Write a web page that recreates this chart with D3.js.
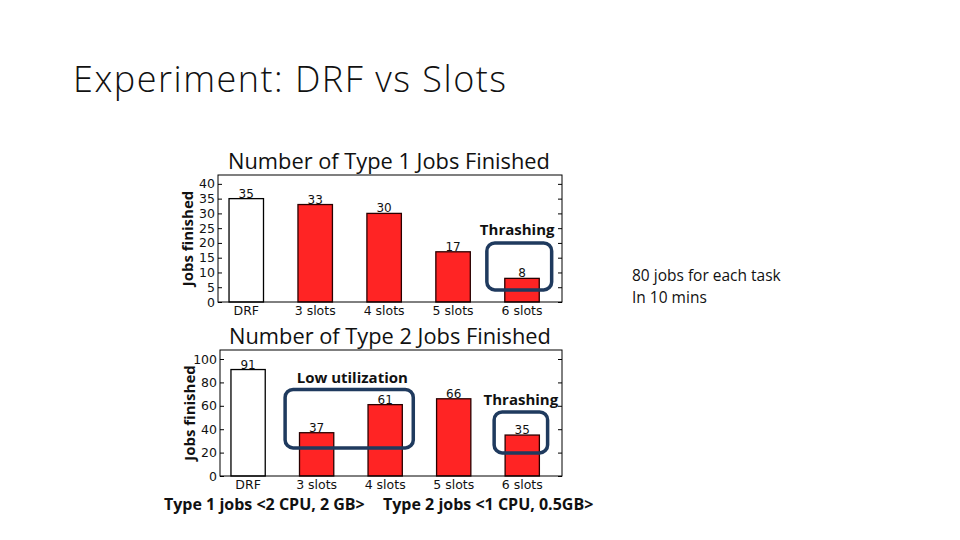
<!DOCTYPE html>
<html lang="en">
<head>
    <meta charset="utf-8">
    <script type="text/javascript" src="https://d3js.org/d3.v7.min.js"></script>
    <title>Experiment: DRF vs Slots</title>
    <style>
        html, body {
            margin: 0;
            padding: 0;
            background: white;
        }
        svg {
            display: block;
        }
        .tick-label, .bar-value, .x-label {
            font-family: "DejaVu Sans", sans-serif;
        }
        .chart-title, .slide-title, .note, .y-title, .annot, .caption {
            font-family: "Open Sans", "Liberation Sans", sans-serif;
        }
    </style>
</head>
<body>
<div id="slide"></div>

<script type="text/javascript">

    // ---------- data ----------
    const categories = ["DRF", "3 slots", "4 slots", "5 slots", "6 slots"];
    const type1Finished = [35, 33, 30, 17, 8];
    const type2Finished = [91, 37, 61, 66, 35];
    const type1Ticks = [0, 5, 10, 15, 20, 25, 30, 35, 40];
    const type2Ticks = [0, 20, 40, 60, 80, 100];
    const noteLines = ["80 jobs for each task", "In 10 mins"];
    const captions = ["Type 1 jobs <2 CPU, 2 GB>", "Type 2 jobs <1 CPU, 0.5GB>"];

    const W = 960, H = 540;
    const RED = "#ff2424";
    const BOX = "#1f3a5e";

    const svg = d3.select("#slide")
        .append("svg")
        .attr("width", W)
        .attr("height", H)
        .style("background", "white");

    // slide title
    svg.append("text")
        .attr("class", "slide-title")
        .attr("x", 73)
        .attr("y", 92)
        .style("font-size", "36px")
        .style("font-weight", 300)
        .style("letter-spacing", "1.5px")
        .attr("fill", "#111")
        .text("Experiment: DRF vs Slots");

    // side note
    svg.append("g")
        .selectAll("text")
        .data(noteLines)
        .join("text")
        .attr("class", "note")
        .attr("x", 632)
        .attr("y", (d, i) => 281 + i * 22)
        .style("font-size", "15.5px")
        .attr("fill", "#111")
        .text(d => d);

    // one bar panel
    function drawPanel(cfg) {
        const g = svg.append("g");

        const x = d3.scaleLinear()
            .domain([-0.41, 4.58])
            .range([cfg.left, cfg.right]);
        const y = d3.scaleLinear()
            .domain([0, cfg.yMax])
            .range([cfg.bottom, cfg.top]);

        // bars
        const halfW = 0.25;
        g.selectAll("rect.bar")
            .data(cfg.values)
            .join("rect")
            .attr("class", "bar")
            .attr("x", (d, i) => x(i - halfW))
            .attr("y", d => y(d))
            .attr("width", (d, i) => x(i + halfW) - x(i - halfW))
            .attr("height", d => y(0) - y(d))
            .attr("fill", (d, i) => i === 0 ? "white" : RED)
            .attr("stroke", (d, i) => i === 0 ? "black" : "#2a0000")
            .attr("stroke-width", 1.3);

        // values on top of the bars
        g.selectAll("text.bar-value")
            .data(cfg.values)
            .join("text")
            .attr("class", "bar-value")
            .attr("x", (d, i) => x(i))
            .attr("y", d => y(d) - 1)
            .attr("text-anchor", "middle")
            .style("font-size", "12px")
            .attr("fill", "#111")
            .text(d => d);

        // frame
        g.append("rect")
            .attr("x", cfg.left)
            .attr("y", cfg.top)
            .attr("width", cfg.right - cfg.left)
            .attr("height", cfg.bottom - cfg.top)
            .attr("fill", "none")
            .attr("stroke", "black")
            .attr("stroke-width", 1);

        // y axis: left ticks with labels, right ticks inward
        const yAxisL = g.append("g")
            .attr("transform", `translate(${cfg.left},0)`)
            .call(d3.axisLeft(y).tickValues(cfg.ticks).tickSizeInner(-4).tickSizeOuter(0).tickPadding(3));
        yAxisL.select(".domain").remove();
        yAxisL.selectAll("text")
            .attr("class", "tick-label")
            .style("font-size", "12.5px")
            .attr("fill", "#111");

        const yAxisR = g.append("g")
            .attr("transform", `translate(${cfg.right},0)`)
            .call(d3.axisRight(y).tickValues(cfg.ticks).tickSizeInner(-4).tickSizeOuter(0).tickFormat(""));
        yAxisR.select(".domain").remove();

        // category labels
        g.selectAll("text.x-label")
            .data(categories)
            .join("text")
            .attr("class", "x-label")
            .attr("x", (d, i) => x(i))
            .attr("y", cfg.bottom + 13)
            .attr("text-anchor", "middle")
            .style("font-size", "12.5px")
            .attr("fill", "#111")
            .text(d => d);

        // title
        g.append("text")
            .attr("class", "chart-title")
            .attr("x", (cfg.left + cfg.right) / 2 - 1)
            .attr("y", cfg.top - 6)
            .attr("text-anchor", "middle")
            .style("font-size", "21.8px")
            .attr("fill", "#111")
            .text(cfg.title);

        // y title
        g.append("text")
            .attr("class", "y-title")
            .attr("transform", `translate(${cfg.left - 25},${(cfg.top + cfg.bottom) / 2}) rotate(-90)`)
            .attr("text-anchor", "middle")
            .style("font-size", "15px")
            .style("font-weight", 700)
            .attr("fill", "#111")
            .text("Jobs finished");

        // annotation boxes
        cfg.boxes.forEach(b => {
            g.append("rect")
                .attr("x", x(b.x0))
                .attr("y", y(b.y1))
                .attr("width", x(b.x1) - x(b.x0))
                .attr("height", y(b.y0) - y(b.y1))
                .attr("rx", 8)
                .attr("fill", "none")
                .attr("stroke", BOX)
                .attr("stroke-width", 3.5);
            g.append("text")
                .attr("class", "annot")
                .attr("x", x(b.tx))
                .attr("y", y(b.ty))
                .attr("text-anchor", "middle")
                .style("font-size", "15px")
                .style("font-weight", 700)
                .attr("fill", "#111")
                .text(b.label);
        });
    }

    drawPanel({
        title: "Number of Type 1 Jobs Finished",
        values: type1Finished,
        ticks: type1Ticks,
        yMax: 43,
        left: 218, right: 562, top: 175, bottom: 302,
        boxes: [
            {label: "Thrashing", x0: 3.49, x1: 4.43, y0: 4.1, y1: 20, tx: 3.93, ty: 22.7}
        ]
    });

    drawPanel({
        title: "Number of Type 2 Jobs Finished",
        values: type2Finished,
        ticks: type2Ticks,
        yMax: 107.7,
        left: 220, right: 562, top: 350, bottom: 476,
        boxes: [
            {label: "Low utilization", x0: 0.54, x1: 2.41, y0: 24, y1: 74, tx: 1.52, ty: 79.5},
            {label: "Thrashing", x0: 3.59, x1: 4.37, y0: 19.7, y1: 54.7, tx: 3.98, ty: 60.7}
        ]
    });

    // caption under the panels
    svg.append("g")
        .selectAll("text")
        .data(captions)
        .join("text")
        .attr("class", "caption")
        .attr("x", (d, i) => i === 0 ? 164 : 383)
        .attr("y", 510)
        .style("font-size", "16px")
        .style("font-weight", 700)
        .attr("fill", "#111")
        .text(d => d);

</script>
</body>
</html>
